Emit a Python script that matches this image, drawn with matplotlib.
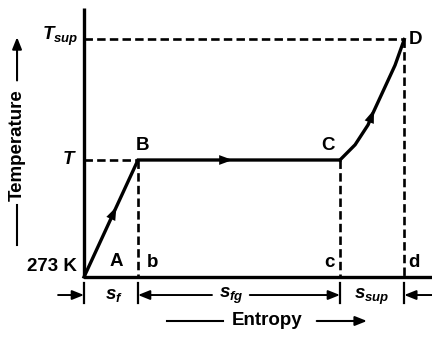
import matplotlib
matplotlib.use("Agg")
import matplotlib.pyplot as plt

plt.rcParams['font.family'] = ['Liberation Sans', 'DejaVu Sans']
plt.rcParams['font.weight'] = 'bold'
plt.rcParams['mathtext.fontset'] = 'custom'
plt.rcParams['mathtext.it'] = 'Liberation Sans:italic:bold'
plt.rcParams['mathtext.rm'] = 'Liberation Sans:bold'
plt.rcParams['mathtext.bf'] = 'Liberation Sans:bold'

# ---- data (entropy in relative units, temperature relative: 273 K = 0, T = 1) ----
point_names = ['A', 'B', 'C', 'D']
point_s = [0.0, 1.0, 4.74, 5.93]
point_T = [0.0, 1.0, 1.0, 2.03]
# superheating curve C -> D
curve_s = [4.74, 5.02, 5.26, 5.35, 5.57, 5.76, 5.93]
curve_T = [1.00, 1.13, 1.30, 1.40, 1.62, 1.81, 2.03]
foot_names = ['b', 'c', 'd']
y_tick_labels = ['273 K', '$T$', '$T_{sup}$']
segment_labels = ['$s_{f}$', '$s_{fg}$', '$s_{sup}$']

W, H = 432, 341
fig = plt.figure(figsize=(W / 100, H / 100), dpi=100)
ax = fig.add_axes([0, 0, 1, 1])
ax.set_xlim(-84 / 54, (W - 84) / 54)
ax.set_ylim((277 - H) / 117, 277 / 117)
ax.axis('off')

K = 'black'
LW = 2.4
DLW = 1.9
dash = (3.2, 1.6)

# axes
ax.plot([0, 0], [0, (277 - 8) / 117], color=K, lw=LW, solid_capstyle='butt')
ax.plot([0, (W - 84) / 54], [0, 0], color=K, lw=LW, solid_capstyle='butt')

# process lines A-B-C
ax.plot(point_s[:3], point_T[:3], color=K, lw=LW, solid_joinstyle='miter')
ax.plot(curve_s, curve_T, color=K, lw=LW, solid_joinstyle='round')

# dashed guides
sA, sB, sC, sD = point_s
TA, TB, TC, TD = point_T
ax.plot([0, sB], [TB, TB], color=K, lw=DLW, dashes=dash)
ax.plot([0, sD], [TD, TD], color=K, lw=DLW, dashes=dash)
for s_, t_ in [(sB, TB), (sC, TC), (sD, TD)]:
    ax.plot([s_, s_], [t_, 0], color=K, lw=DLW, dashes=dash)

# direction arrows on path
def head(x0, y0, x1, y1):
    ax.annotate('', xy=(x1, y1), xytext=(x0, y0),
                arrowprops=dict(arrowstyle='-|>,head_length=0.6,head_width=0.22',
                                color=K, lw=0, shrinkA=0, shrinkB=0,
                                mutation_scale=16))

head(0.50, 0.50, 0.60, 0.60)
head(2.55, 1.0, 2.75, 1.0)
head(5.30, 1.345, 5.37, 1.43)

# point labels
fs = 13.5
ax.text(0.59, 0.13, 'A', fontsize=fs, ha='center', va='center', fontweight='bold')
ax.text(1.08, 1.12, 'B', fontsize=fs, ha='center', va='center', fontweight='bold')
ax.text(4.52, 1.12, 'C', fontsize=fs, ha='center', va='center', fontweight='bold')
ax.text(6.13, 2.03, 'D', fontsize=fs, ha='center', va='center', fontweight='bold')
foot_s = [1.26, 4.54, 6.11]
for name, xs in zip(foot_names, foot_s):
    ax.text(xs, 0.12, name, fontsize=fs, ha='center', va='center', fontweight='bold')

# temperature labels
ax.text(-0.13, 0.09, y_tick_labels[0], fontsize=fs, ha='right', va='center', fontweight='bold')
ax.text(-0.13, 1.0, y_tick_labels[1], fontsize=fs, ha='right', va='center')
ax.text(-0.11, 2.06, y_tick_labels[2], fontsize=fs, ha='right', va='center')

# dimension marks below axis
ydim = -0.154
for s_ in [sA, sB, sC, sD]:
    ax.plot([s_, s_], [-0.05, -0.22], color=K, lw=1.6, clip_on=False)

def dim_arrow(x0, x1):
    ax.annotate('', xy=(x1, ydim), xytext=(x0, ydim),
                arrowprops=dict(arrowstyle='-|>,head_length=0.5,head_width=0.2',
                                color=K, lw=1.4, shrinkA=0, shrinkB=0,
                                mutation_scale=14))

dim_arrow(-0.48, sA)
dim_arrow(2.37, sB)
dim_arrow(3.07, sC)
dim_arrow((W - 84) / 54, sD)

ax.text(0.56, -0.16, segment_labels[0], fontsize=fs, ha='center', va='center')
ax.text(2.72, -0.16, segment_labels[1], fontsize=fs, ha='center', va='center')
ax.text(5.33, -0.17, segment_labels[2], fontsize=fs, ha='center', va='center')

# axis titles
ax.text(3.39, -0.376, 'Entropy', fontsize=fs, ha='center', va='center', fontweight='bold')
ax.plot([1.54, 2.57], [-0.376, -0.376], color=K, lw=1.5)
ax.annotate('', xy=(5.24, -0.376), xytext=(4.31, -0.376),
            arrowprops=dict(arrowstyle='-|>,head_length=0.5,head_width=0.2',
                            color=K, lw=1.5, shrinkA=0, shrinkB=0, mutation_scale=14))

ax.text(-1.24, 1.13, 'Temperature', fontsize=fs, ha='center', va='center',
        rotation=90, fontweight='bold')
ax.plot([-1.24, -1.24], [0.27, 0.615], color=K, lw=1.5)
ax.annotate('', xy=(-1.24, 2.05), xytext=(-1.24, 1.68),
            arrowprops=dict(arrowstyle='-|>,head_length=0.5,head_width=0.2',
                            color=K, lw=1.5, shrinkA=0, shrinkB=0, mutation_scale=14))

fig.savefig('out.png', dpi=100)
